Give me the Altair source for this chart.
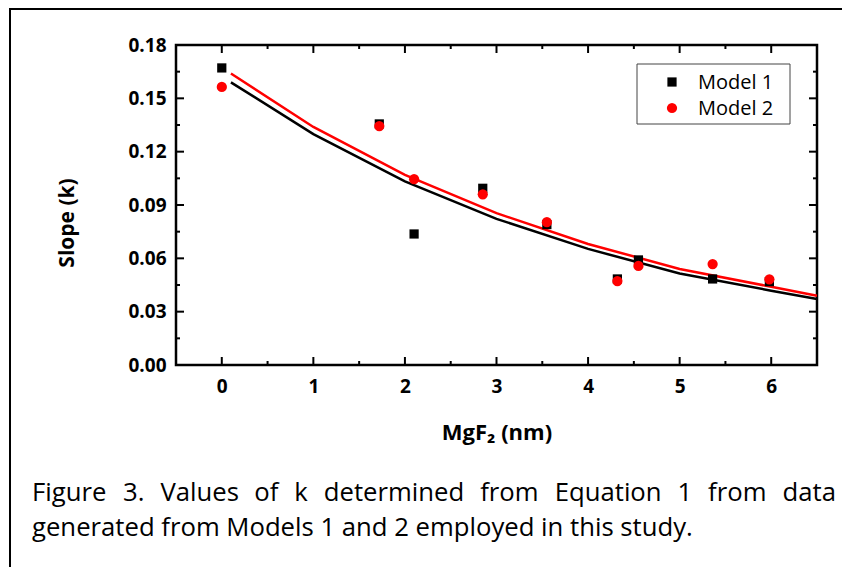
import altair as alt
import pandas as pd

# ---------------- data ----------------
x_label_values = [0, 1, 2, 3, 4, 5, 6]
x_minor_ticks = [0.5, 1.5, 2.5, 3.5, 4.5, 5.5]
y_label_values = [0.0, 0.03, 0.06, 0.09, 0.12, 0.15, 0.18]
y_major_ticks = [0.03, 0.06, 0.09, 0.12, 0.15]
y_minor_ticks = [0.015, 0.045, 0.075, 0.105, 0.135, 0.165]

m1_x = [0.0, 1.72, 2.10, 2.85, 3.55, 4.32, 4.55, 5.36, 5.98]
m1_y = [0.1671, 0.1356, 0.0737, 0.0994, 0.0790, 0.0484, 0.0591, 0.0484, 0.0469]
m2_x = [0.0, 1.72, 2.10, 2.85, 3.55, 4.32, 4.55, 5.36, 5.98]
m2_y = [0.1564, 0.1344, 0.1045, 0.0960, 0.0803, 0.0472, 0.0557, 0.0568, 0.0482]

fit_x = [0.1, 1, 2, 3, 4, 5, 6, 6.5]
fit1_y = [0.1590, 0.1299, 0.1033, 0.0822, 0.0653, 0.0515, 0.0418, 0.0371]
fit2_y = [0.1640, 0.1339, 0.1070, 0.0854, 0.0681, 0.0540, 0.0440, 0.0389]

legend_labels = ["Model 1", "Model 2"]
x_title = "MgF\u2082 (nm)"
y_title = "Slope (k)"
caption_line1 = "Figure 3. Values of k determined from Equation 1 from data"
caption_line2 = "generated from Models 1 and 2 employed in this study."

# ---------------- layout ----------------
W, H = 641, 320
PAD = {"left": 168, "top": 37, "right": 25, "bottom": 202}
FONT = "Open Sans"

xscale = alt.Scale(domain=[-0.5, 6.5], nice=False, zero=False)
yscale = alt.Scale(domain=[0, 0.18], nice=False, zero=False)

x_axis = alt.Axis(values=x_label_values, format="d", labelFont=FONT, labelFontSize=19,
                  labelFontWeight="bold", labelColor="black", labelPadding=12,
                  domain=False, ticks=False, tickSize=0, grid=False, title=None)
y_axis = alt.Axis(values=y_label_values, format=".2f", labelFont=FONT, labelFontSize=19,
                  labelFontWeight="bold", labelColor="black", labelPadding=10,
                  domain=False, ticks=False, tickSize=0, grid=False, title=None)


def X():
    return alt.X("x:Q", scale=xscale, axis=x_axis)


def Y():
    return alt.Y("y:Q", scale=yscale, axis=y_axis)


layers = []

# fitted curves
layers.append(alt.Chart(pd.DataFrame({"x": fit_x, "y": fit1_y})).mark_line(
    color="black", strokeWidth=2.5).encode(x=X(), y=Y()))
layers.append(alt.Chart(pd.DataFrame({"x": fit_x, "y": fit2_y})).mark_line(
    color="#ff0000", strokeWidth=2.5).encode(x=X(), y=Y()))

# points
layers.append(alt.Chart(pd.DataFrame({"x": m1_x, "y": m1_y})).mark_square(
    size=85, color="black", opacity=1).encode(x=X(), y=Y()))
layers.append(alt.Chart(pd.DataFrame({"x": m2_x, "y": m2_y})).mark_circle(
    size=105, color="#ff0000", opacity=1).encode(x=X(), y=Y()))

# inward ticks on all four sides
for vals, ln in [(x_label_values, 8), (x_minor_ticks, 4)]:
    d = pd.DataFrame({"x": vals})
    layers.append(alt.Chart(d).mark_rule(color="black", strokeWidth=2).encode(
        x=X(), y=alt.value(H), y2=alt.value(H - ln)))
    layers.append(alt.Chart(d).mark_rule(color="black", strokeWidth=2).encode(
        x=X(), y=alt.value(0), y2=alt.value(ln)))
for vals, ln in [(y_major_ticks, 8), (y_minor_ticks, 4)]:
    d = pd.DataFrame({"y": vals})
    layers.append(alt.Chart(d).mark_rule(color="black", strokeWidth=2).encode(
        y=Y(), x=alt.value(0), x2=alt.value(ln)))
    layers.append(alt.Chart(d).mark_rule(color="black", strokeWidth=2).encode(
        y=Y(), x=alt.value(W), x2=alt.value(W - ln)))

one = pd.DataFrame({"a": [0]})


def txt(s, x, y, **kw):
    return alt.Chart(one).mark_text(**kw).encode(
        x=alt.value(x), y=alt.value(y), text=alt.value(s))


# legend
layers.append(alt.Chart(one).mark_rect(fill="white", stroke="#444444", strokeWidth=1).encode(
    x=alt.value(461), x2=alt.value(614), y=alt.value(19), y2=alt.value(79)))
layers.append(alt.Chart(one).mark_square(size=85, color="black", opacity=1).encode(
    x=alt.value(496), y=alt.value(37)))
layers.append(alt.Chart(one).mark_circle(size=105, color="#ff0000", opacity=1).encode(
    x=alt.value(496), y=alt.value(63)))
layers.append(txt(legend_labels[0], 522, 38, font=FONT, fontSize=20, align="left",
                  baseline="middle", color="black"))
layers.append(txt(legend_labels[1], 522, 64, font=FONT, fontSize=20, align="left",
                  baseline="middle", color="black"))

# axis titles
layers.append(txt(y_title, -108, 178, font=FONT, fontSize=21, fontWeight="bold", angle=270,
                  align="center", baseline="middle", color="black"))
layers.append(txt(x_title, 321, 388, font=FONT, fontSize=22, fontWeight="bold",
                  align="center", baseline="middle", color="black"))

# caption (first line justified)
CW = {"a": .556, "b": .613, "c": .476, "d": .613, "e": .561, "f": .339, "g": .548, "h": .614,
      "i": .253, "k": .525, "l": .253, "m": .930, "n": .614, "o": .604, "p": .613, "q": .613,
      "r": .408, "s": .477, "t": .353, "u": .614, "v": .501, "w": .778, "y": .502,
      ".": .266, "F": .537, "V": .569, "E": .550, "M": .903}
CFS = 25.7
left_px, right_px = -144, 660


def wwidth(w):
    return sum(CW.get(c, .572) for c in w) * CFS


words = caption_line1.split(" ")
total = sum(wwidth(w) for w in words)
gap = (right_px - left_px - total) / (len(words) - 1)
cx = left_px
for w in words:
    layers.append(txt(w, cx, 456, font=FONT, fontSize=CFS, align="left",
                      baseline="alphabetic", color="black"))
    cx += wwidth(w) + gap
layers.append(txt(caption_line2, left_px, 491, font=FONT, fontSize=CFS, align="left",
                  baseline="alphabetic", color="black"))

# outer figure border (left and top edges)
layers.append(alt.Chart(one).mark_rule(color="black", strokeWidth=2).encode(
    x=alt.value(-166), y=alt.value(-36), y2=alt.value(H + PAD["bottom"])))
layers.append(alt.Chart(one).mark_rule(color="black", strokeWidth=2).encode(
    x=alt.value(-167), x2=alt.value(W + PAD["right"]), y=alt.value(-36)))

chart = alt.layer(*layers).properties(
    width=W, height=H,
    autosize=alt.AutoSizeParams(type="none"),
    padding=PAD,
    background="white",
).configure_view(stroke="black", strokeWidth=2.5)

chart.save("out.html", embed_options={"renderer": "svg", "actions": False})
